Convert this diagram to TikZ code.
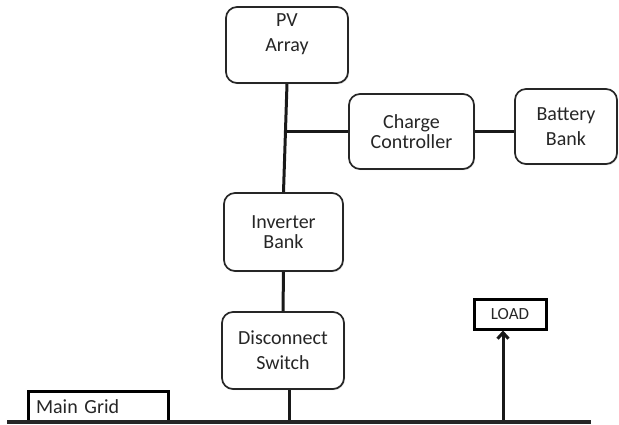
\documentclass[tikz,border=0pt]{standalone}
\usepackage{fontspec}
\setmainfont{Carlito}
\usetikzlibrary{arrows.meta,shadows}
\begin{document}
\begin{tikzpicture}[x=1pt,y=-1pt,
  rbox/.style={draw=black!85, line width=1.7pt, rounded corners=11pt, fill=white,
    drop shadow={opacity=0.25, shadow xshift=1pt, shadow yshift=-1.2pt},
    align=center, inner sep=0pt, text=black!85},
  wide/.style={font=\fontsize{20}{25}\selectfont},
  tight/.style={font=\fontsize{20}{20}\selectfont},
  sbox/.style={draw=black, line width=3pt, fill=white, inner sep=0pt, text=black!85},
  conn/.style={line width=3pt, draw=black!90}]
\useasboundingbox (0,0) rectangle (619,425);
\node[rbox, wide, minimum width=122pt, minimum height=76pt] (pv) at (287,45) {PV\\Array\\{}};
\node[rbox, tight, minimum width=125pt, minimum height=75pt] (cc) at (411.5,131.5) {Charge\\Controller};
\node[rbox, wide, minimum width=102pt, minimum height=75pt] (bat) at (566,126.5) {Battery\\Bank};
\node[rbox, tight, minimum width=119pt, minimum height=78pt] (inv) at (283.5,232) {Inverter\\Bank};
\node[rbox, wide, minimum width=122pt, minimum height=77pt] (dis) at (283,350.5) {Disconnect\\Switch};
\node[sbox, minimum width=140pt, minimum height=31pt, font=\fontsize{20}{24}\selectfont,
  text width=124pt, align=left] (grid) at (98,406.5) {Main Grid};
\node[sbox, minimum width=72pt, minimum height=30pt, font=\fontsize{17}{20}\selectfont] (load) at (510,314) {LOAD};
\coordinate (gl) at (7,422);
\coordinate (gr) at (591,422);
\coordinate (j) at (286,131.5);
\coordinate (gx) at (289,422);
\coordinate (lx) at (503,422);
\draw[conn] (pv.south) -- (inv.north);
\draw[conn] (j) -- (cc.west);
\draw[conn] (cc.east) -- (cc.east -| bat.west);
\draw[conn] (inv.south) -- (dis.north);
\draw[conn] (gx |- dis.south) -- (gx);
\draw[conn, -{Straight Barb[length=6pt,width=11pt,line width=3pt]}] (lx) -- (lx |- load.south);
\draw[line width=3.5pt, black!85] (gl) -- (gr);
\end{tikzpicture}
\end{document}
